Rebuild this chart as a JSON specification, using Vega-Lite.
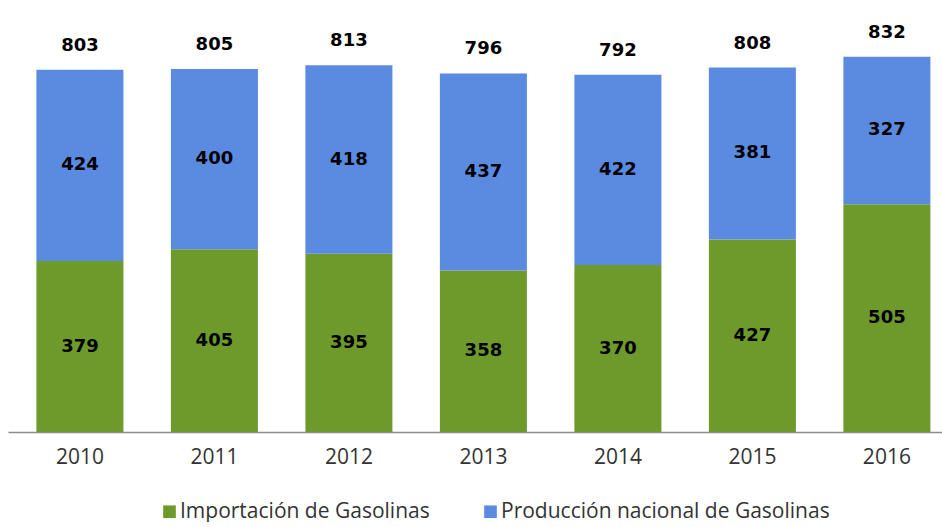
{
  "$schema": "https://vega.github.io/schema/vega-lite/v6.json",
  "width": 934,
  "height": 424,
  "padding": {"left": 8, "top": 8, "right": 0, "bottom": 0},
  "background": "white",
  "config": {"view": {"stroke": null}, "font": "Open Sans"},
  "datasets": {
    "parts": [
      {"year": "2010", "serie": "Importación de Gasolinas", "orden": 1, "valor": 379},
      {"year": "2010", "serie": "Producción nacional de Gasolinas", "orden": 2, "valor": 424},
      {"year": "2011", "serie": "Importación de Gasolinas", "orden": 1, "valor": 405},
      {"year": "2011", "serie": "Producción nacional de Gasolinas", "orden": 2, "valor": 400},
      {"year": "2012", "serie": "Importación de Gasolinas", "orden": 1, "valor": 395},
      {"year": "2012", "serie": "Producción nacional de Gasolinas", "orden": 2, "valor": 418},
      {"year": "2013", "serie": "Importación de Gasolinas", "orden": 1, "valor": 358},
      {"year": "2013", "serie": "Producción nacional de Gasolinas", "orden": 2, "valor": 437},
      {"year": "2014", "serie": "Importación de Gasolinas", "orden": 1, "valor": 370},
      {"year": "2014", "serie": "Producción nacional de Gasolinas", "orden": 2, "valor": 422},
      {"year": "2015", "serie": "Importación de Gasolinas", "orden": 1, "valor": 427},
      {"year": "2015", "serie": "Producción nacional de Gasolinas", "orden": 2, "valor": 381},
      {"year": "2016", "serie": "Importación de Gasolinas", "orden": 1, "valor": 505},
      {"year": "2016", "serie": "Producción nacional de Gasolinas", "orden": 2, "valor": 327}
    ],
    "totals": [
      {"year": "2010", "total": 803},
      {"year": "2011", "total": 805},
      {"year": "2012", "total": 813},
      {"year": "2013", "total": 796},
      {"year": "2014", "total": 792},
      {"year": "2015", "total": 808},
      {"year": "2016", "total": 832}
    ]
  },
  "encoding": {
    "x": {
      "field": "year",
      "type": "nominal",
      "scale": {"paddingInner": 0.353, "paddingOuter": 0.1487, "align": 0.71},
      "axis": {
        "title": null,
        "labelAngle": 0,
        "ticks": false,
        "domainColor": "#8c8c8c",
        "domainWidth": 1.5,
        "labelFontSize": 21,
        "labelColor": "#333333",
        "labelPadding": 14,
        "labelFont": "Open Sans"
      }
    }
  },
  "layer": [
    {
      "data": {"name": "parts"},
      "mark": {"type": "bar"},
      "encoding": {
        "y": {
          "field": "valor",
          "type": "quantitative",
          "stack": "zero",
          "scale": {"domain": [0, 940], "nice": false},
          "axis": null
        },
        "order": {"field": "orden", "type": "quantitative"},
        "color": {
          "field": "serie",
          "type": "nominal",
          "scale": {
            "domain": ["Importación de Gasolinas", "Producción nacional de Gasolinas"],
            "range": ["#6e9a2c", "#5a8be0"]
          },
          "legend": {
            "title": null,
            "orient": "none",
            "legendX": 151,
            "legendY": 493,
            "padding": 0,
            "direction": "horizontal",
            "symbolType": "square",
            "symbolSize": 160,
            "symbolStrokeWidth": 0,
            "symbolOpacity": 1,
            "labelFontSize": 21,
            "labelFont": "Open Sans",
            "labelColor": "#333333",
            "labelLimit": 400,
            "labelOffset": 0,
            "columnPadding": 50
          }
        }
      }
    },
    {
      "data": {"name": "parts"},
      "transform": [
        {"stack": "valor", "groupby": ["year"], "sort": [{"field": "orden"}], "as": ["v0", "v1"]},
        {"calculate": "(datum.v0 + datum.v1) / 2", "as": "mid"}
      ],
      "mark": {"type": "text", "font": "DejaVu Sans", "fontWeight": "bold", "fontSize": 18, "color": "#000000", "baseline": "middle"},
      "encoding": {
        "y": {"field": "mid", "type": "quantitative", "scale": {"domain": [0, 940], "nice": false}},
        "text": {"field": "valor", "type": "quantitative"}
      }
    },
    {
      "data": {"name": "totals"},
      "mark": {"type": "text", "font": "DejaVu Sans", "fontWeight": "bold", "fontSize": 18, "color": "#000000", "baseline": "middle", "dy": -24},
      "encoding": {
        "y": {"field": "total", "type": "quantitative", "scale": {"domain": [0, 940], "nice": false}},
        "text": {"field": "total", "type": "quantitative"}
      }
    }
  ]
}
